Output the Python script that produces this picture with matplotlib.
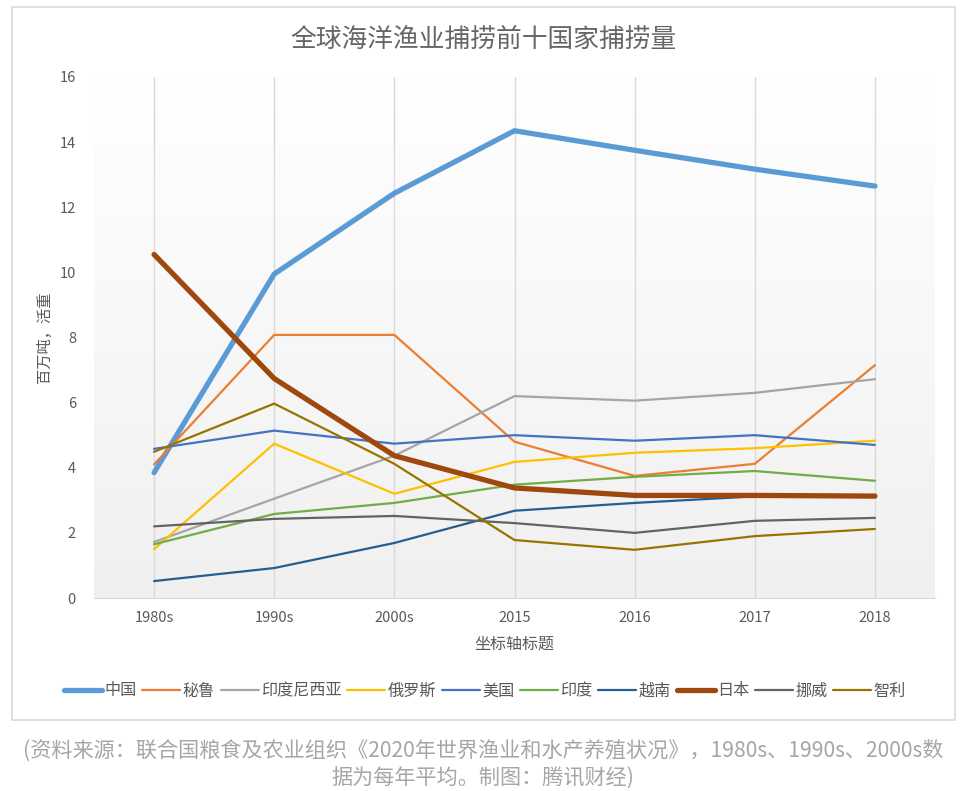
import numpy as np
import matplotlib
matplotlib.use('Agg')
import matplotlib.pyplot as plt
from matplotlib.patches import Rectangle

plt.rcParams['font.family'] = ['Noto Sans CJK SC', 'DejaVu Sans']

# data (million tonnes, live weight)
periods = ['1980s', '1990s', '2000s', '2015', '2016', '2017', '2018']
china = [3.85, 9.95, 12.43, 14.35, 13.75, 13.17, 12.65]
peru = [4.1, 8.08, 8.08, 4.8, 3.75, 4.12, 7.15]
indonesia = [1.72, 3.05, 4.37, 6.2, 6.06, 6.3, 6.72]
russia = [1.5, 4.74, 3.2, 4.18, 4.46, 4.6, 4.83]
usa = [4.58, 5.14, 4.74, 5.0, 4.83, 5.0, 4.7]
india = [1.65, 2.58, 2.92, 3.48, 3.72, 3.9, 3.6]
vietnam = [0.52, 0.92, 1.69, 2.68, 2.92, 3.12, 3.1]
japan = [10.55, 6.74, 4.37, 3.38, 3.15, 3.15, 3.13]
norway = [2.2, 2.43, 2.52, 2.3, 2.0, 2.37, 2.46]
chile = [4.49, 5.97, 4.12, 1.78, 1.48, 1.9, 2.12]

names = ['中国', '秘鲁', '印度尼西亚', '俄罗斯', '美国', '印度', '越南', '日本', '挪威', '智利']
series = [china, peru, indonesia, russia, usa, india, vietnam, japan, norway, chile]
colors = ['#5B9BD5', '#ED7D31', '#A5A5A5', '#FFC000', '#4472C4',
          '#70AD47', '#255E91', '#9E480E', '#636363', '#997300']
widths = [3.8, 1.6, 1.6, 1.6, 1.6, 1.6, 1.6, 3.8, 1.6, 1.6]

fig = plt.figure(figsize=(9.66, 7.91), dpi=100)

# outer chart frame
fig.patches.append(Rectangle((12/966, 1-720/791), (955-12)/966, (720-7)/791,
                             transform=fig.transFigure, fill=False,
                             edgecolor='#d9d9d9', linewidth=1.2))

ax = fig.add_axes([94/966, 1-598/791, (935-94)/966, (598-77)/791])
x = np.arange(len(periods))

# subtle gradient background like the original
grad = np.linspace(0, 1, 256).reshape(-1, 1)
ax.imshow(grad, extent=[-0.5, len(periods)-0.5, 0, 16], aspect='auto',
          cmap=matplotlib.colors.LinearSegmentedColormap.from_list('g', ['#f0f0f0', '#ffffff']),
          origin='lower', zorder=0)

for vals, name, c, w in zip(series, names, colors, widths):
    ax.plot(x, vals, color=c, linewidth=w, label=name, solid_capstyle='round',
            solid_joinstyle='round', zorder=3)

ax.set_xlim(-0.5, len(periods)-0.5)
ax.set_ylim(0, 16)
ax.set_yticks(range(0, 17, 2))
ax.set_xticks(x)
ax.set_xticklabels(periods)
ax.tick_params(axis='both', length=0, labelsize=10.5, colors='#595959')
ax.tick_params(axis='y', pad=13)
ax.tick_params(axis='x', pad=9)
ax.grid(axis='x', color='#d9d9d9', linewidth=1)
for s in ['top', 'right', 'left']:
    ax.spines[s].set_visible(False)
ax.spines['bottom'].set_color('#d9d9d9')

ax.set_xlabel('坐标轴标题', fontsize=11.5, color='#595959', labelpad=8)
ax.set_ylabel('百万吨，活重', fontsize=11, color='#595959', labelpad=5)

fig.text(0.5, 1-40/791, '全球海洋渔业捕捞前十国家捕捞量', ha='center', va='center',
         fontsize=18.5, color='#666666')

fig.legend(*ax.get_legend_handles_labels(), loc='center',
           bbox_to_anchor=(485/966, 1-691/791), ncol=10,
           frameon=False, fontsize=11.6, handlelength=2.35, handletextpad=0.15,
           columnspacing=0.36, labelcolor='#595959')

fig.text(0.5, 1-751/791, '(资料来源：联合国粮食及农业组织《2020年世界渔业和水产养殖状况》，1980s、1990s、2000s数',
         ha='center', va='center', fontsize=15.2, color='#a6a6a6', style='italic')
fig.text(0.5, 1-779/791, '据为每年平均。制图：腾讯财经)',
         ha='center', va='center', fontsize=15.2, color='#a6a6a6', style='italic')

fig.savefig('out.png', dpi=100)
